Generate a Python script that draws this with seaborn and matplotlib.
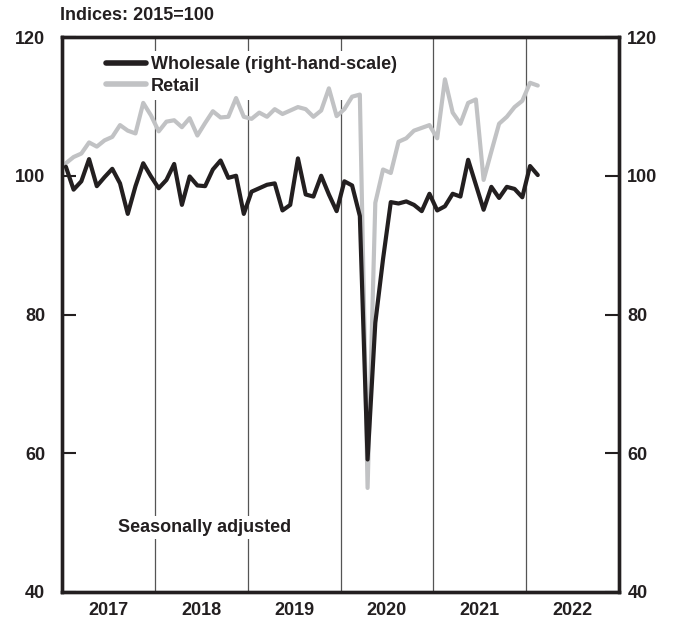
import numpy as np
import pandas as pd
import matplotlib
matplotlib.use("Agg")
import matplotlib.pyplot as plt
import seaborn as sns

# ---- data (monthly, Jan 2017 - Feb 2022) ----
wholesale = [
    101.3, 98.0, 99.2, 102.4, 98.5, 99.8, 101.0, 98.9, 94.5, 98.5, 101.8, 99.9,
    98.2, 99.4, 101.7, 95.8, 99.9, 98.6, 98.5, 100.9, 102.2, 99.7, 100.0, 94.5,
    97.7, 98.2, 98.7, 98.9, 95.0, 95.8, 102.5, 97.3, 97.0, 100.0, 97.3, 94.9,
    99.2, 98.6, 94.2, 59.1, 78.8, 88.0, 96.2, 96.0, 96.3, 95.8, 94.9, 97.4,
    95.0, 95.6, 97.4, 97.0, 102.3, 98.7, 95.1, 98.4, 96.8, 98.4, 98.1, 96.9,
    101.4, 100.1,
]
retail = [
    101.8, 102.7, 103.2, 104.8, 104.2, 105.1, 105.6, 107.3, 106.5, 106.1, 110.5, 108.7,
    106.4, 107.8, 108.0, 107.0, 108.3, 105.8, 107.6, 109.3, 108.4, 108.5, 111.2, 108.5,
    108.2, 109.1, 108.5, 109.6, 108.9, 109.4, 109.9, 109.6, 108.5, 109.4, 112.6, 108.6,
    109.6, 111.4, 111.7, 55.0, 96.1, 100.9, 100.4, 104.9, 105.4, 106.5, 106.9, 107.3,
    105.4, 113.9, 109.1, 107.5, 110.5, 111.0, 99.4, 103.5, 107.5, 108.5, 109.9, 110.8,
    113.4, 113.0,
]
years = [2017, 2018, 2019, 2020, 2021, 2022]
year_labels = ["2017", "2018", "2019", "2020", "2021", "2022"]
y_ticks = [40, 60, 80, 100, 120]

n = len(wholesale)
# decimal-year position at mid-month
t = [2017 + (i + 0.5) / 12 for i in range(n)]
df = pd.DataFrame({
    "t": t * 2,
    "value": wholesale + retail,
    "series": ["Wholesale (right-hand-scale)"] * n + ["Retail"] * n,
})

sns.set_style("white")
plt.rcParams["font.family"] = ["Liberation Sans", "DejaVu Sans"]
plt.rcParams["font.weight"] = "bold"

TXT = "#231f20"
BLACK = "#231f20"
GREY = "#c1c2c4"
FS = 13

fig = plt.figure(figsize=(6.79, 6.22), dpi=100)
ax = fig.add_axes([62 / 679, 30 / 622, 557 / 679, 555 / 622])

# year separators
for yr in years[1:]:
    ax.axvline(yr, color="#555555", lw=0.9, zorder=0)

sns.lineplot(data=df, x="t", y="value", hue="series",
             palette={"Wholesale (right-hand-scale)": BLACK, "Retail": GREY},
             hue_order=["Wholesale (right-hand-scale)", "Retail"],
             linewidth=3.0, ax=ax, zorder=3)
for line in ax.get_lines():
    if line.get_color() == BLACK:
        line.set_zorder(4)

ax.set_xlim(2017, 2023)
ax.set_ylim(40, 120)
ax.set_xlabel("")
ax.set_ylabel("")

ax.set_xticks(years[1:])
ax.set_xticklabels([])
ax.set_xticks([y + 0.5 for y in years], minor=True)
ax.set_xticklabels(year_labels, minor=True)
ax.tick_params(axis="x", which="major", direction="out", length=5, width=0.9, color="#555555")
ax.tick_params(axis="x", which="minor", length=0, pad=7, labelsize=FS, labelcolor=TXT)

ax.set_yticks(y_ticks)
ax.set_yticklabels([str(v) for v in y_ticks])
ax.tick_params(axis="y", direction="in", length=10, width=1.5, color=BLACK,
               left=True, labelleft=True, pad=12, labelsize=FS, labelcolor=TXT)

ax2 = ax.twinx()
ax2.set_ylim(40, 120)
ax2.set_yticks(y_ticks)
ax2.set_yticklabels([str(v) for v in y_ticks])
ax2.tick_params(axis="y", direction="in", length=10, width=1.5, color=BLACK,
                right=True, labelright=True, pad=6, labelsize=FS, labelcolor=TXT)

for a in (ax, ax2):
    for s in a.spines.values():
        s.set_visible(True)
        s.set_linewidth(2.4)
        s.set_color(BLACK)

leg = ax.legend(loc="upper left", bbox_to_anchor=(0.07, 0.975), borderaxespad=0,
                frameon=True, fancybox=False, edgecolor="none", facecolor="white",
                framealpha=1, fontsize=FS, handlelength=2.2, handletextpad=0.25,
                labelspacing=0.25, borderpad=0.3)
for h in leg.get_lines():
    h.set_linewidth(4)
for tx in leg.get_texts():
    tx.set_color(TXT)
leg.set_zorder(2)

ax.text(0.101, 0.116, "Seasonally adjusted", transform=ax.transAxes, fontsize=FS,
        color=TXT, ha="left", va="center", zorder=2,
        bbox=dict(facecolor="white", edgecolor="none", pad=2))

fig.text(60 / 679, 1 - 15 / 622, "Indices: 2015=100", fontsize=FS, color=TXT,
         ha="left", va="center")

fig.savefig("out.png", dpi=100)
